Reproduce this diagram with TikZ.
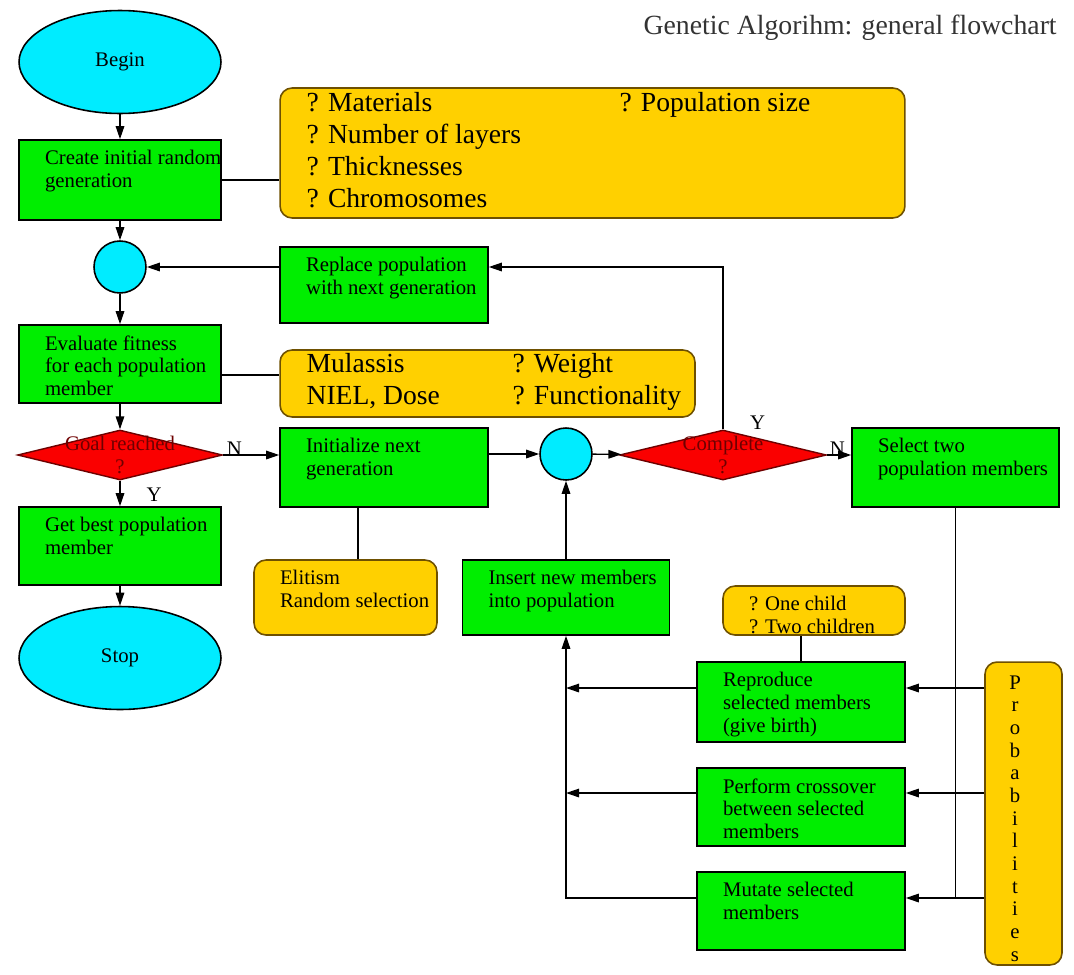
\documentclass[tikz,border=0pt]{standalone}
\usepackage{fontspec}
\setmainfont{Liberation Serif}
\usetikzlibrary{shapes.geometric,arrows.meta}
\definecolor{procgreen}{RGB}{0,238,0}
\definecolor{termcyan}{RGB}{0,236,255}
\definecolor{notegold}{RGB}{255,208,0}
\definecolor{noteedge}{RGB}{110,80,0}
\definecolor{testred}{RGB}{250,0,0}
\definecolor{testedge}{RGB}{110,0,0}

\begin{document}
\begin{tikzpicture}[x=0.02cm, y=-0.02cm,
    every node/.style={font=\fontsize{11.8}{12.9}\selectfont},
    term/.style={ellipse, draw, fill=termcyan, line width=0.9pt, minimum width=4.04cm, minimum height=2.06cm},
    joint/.style={circle, draw, fill=termcyan, line width=0.9pt, minimum size=1.04cm, inner sep=0pt},
    proc/.style={rectangle, draw, fill=procgreen, line width=0.9pt},
    note/.style={rectangle, rounded corners=0.24cm, draw=noteedge, fill=notegold, line width=0.9pt},
    test/.style={diamond, draw=testedge, fill=testred, line width=0.8pt, inner sep=0pt},
    ptext/.style={anchor=north west, align=left, inner sep=0pt, xshift=0.53cm, yshift=-0.22cm},
    btext/.style={anchor=north west, align=left, inner sep=0pt, xshift=0.54cm, yshift=-0.1cm, font=\fontsize{15.7}{18.1}\selectfont},
    ltext/.style={anchor=north, align=center, inner sep=0pt, xshift=-0.17cm, yshift=-0.28cm},
    dtext/.style={anchor=center, align=center, inner sep=0pt, text=testedge},
    yn/.style={inner sep=0pt},
    arr/.style={-{Triangle[length=0.26cm,width=0.17cm]}, line width=0.8pt},
    link/.style={line width=0.8pt}]
            \useasboundingbox (0,0) rectangle (1074,974);

            \node[anchor=base east, inner sep=0pt, font=\fontsize{15.8}{18}\selectfont, text=black!80] (title) at (1057,34) {Genetic Algorihm: general flowchart};

            \node[term] (begin) at (120,62) {Begin};
            \node[proc, minimum width=4.04cm, minimum height=1.6cm, label={[ptext]north west:Create initial random\\generation}] (create) at (120,180) {};
            \node[note, minimum width=12.5cm, minimum height=2.6cm,
                label={[btext]north west:{? Materials\\? Number of layers\\? Thicknesses\\? Chromosomes}},
                label={[btext, xshift=6.26cm]north west:{? Population size}}] (cparams) at (592.5,153) {};
            \node[joint] (circ1) at (120,267) {};
            \node[proc, minimum width=4.16cm, minimum height=1.52cm, label={[ptext]north west:Replace population\\with next generation}] (replace) at (384,285) {};
            \node[proc, minimum width=4.04cm, minimum height=1.56cm, label={[ptext]north west:Evaluate fitness\\for each population\\member}] (evaluate) at (120,364) {};
            \node[note, minimum width=8.3cm, minimum height=1.34cm,
                label={[btext, yshift=0.02cm]north west:{Mulassis\\NIEL, Dose}},
                label={[btext, yshift=0.02cm, xshift=4.12cm]north west:{? Weight\\? Functionality}}] (eparams) at (487.5,383.5) {};
            \node[test, minimum width=4.1cm, minimum height=1.0cm, label={[dtext]center:Goal reached\\?}] (goal) at (120,455) {};
            \node[proc, minimum width=4.04cm, minimum height=1.56cm, label={[ptext]north west:Get best population\\member}] (getbest) at (120,546) {};
            \node[term] (stop) at (120,658) {Stop};

            \node[proc, minimum width=4.16cm, minimum height=1.58cm, label={[ptext]north west:Initialize next\\generation}] (init) at (384,467.5) {};
            \node[note, minimum width=3.66cm, minimum height=1.5cm, label={[ptext]north west:Elitism\\Random selection}] (elitism) at (345.5,597.5) {};
            \node[joint] (circ2) at (566,454) {};
            \node[test, minimum width=4.14cm, minimum height=1.0cm, label={[dtext]center:Complete\\?}] (complete) at (723,455) {};
            \node[proc, minimum width=4.14cm, minimum height=1.58cm, label={[ptext]north west:Select two\\population members}] (select) at (955.5,467.5) {};
            \node[proc, minimum width=4.14cm, minimum height=1.5cm, label={[ptext]north west:Insert new members\\into population}] (insert) at (566,597.5) {};
            \node[note, minimum width=3.64cm, minimum height=0.98cm, label={[ptext]north west:? One child\\? Two children}] (children) at (814,610.5) {};
            \node[proc, minimum width=4.16cm, minimum height=1.6cm, label={[ptext]north west:Reproduce\\selected members\\(give birth)}] (reproduce) at (801,702) {};
            \node[proc, minimum width=4.16cm, minimum height=1.56cm, label={[ptext]north west:Perform crossover\\between selected\\members}] (crossover) at (801,807) {};
            \node[proc, minimum width=4.16cm, minimum height=1.56cm, label={[ptext]north west:Mutate selected\\members}] (mutate) at (801,911) {};
            \node[note, minimum width=1.54cm, minimum height=6.06cm, label={[ltext]north:P\\r\\o\\b\\a\\b\\i\\l\\i\\t\\i\\e\\s}] (probs) at (1023.5,813.5) {};

            \draw[arr] (begin) -- (create);
            \draw[arr] (create) -- (circ1);
            \draw[arr] (circ1) -- (evaluate);
            \draw[arr] (evaluate) -- (goal);
            \draw[arr] (goal) -- node[yn, pos=1, anchor=base west, xshift=0.52cm, yshift=0.1cm] (ygoal) {Y} (getbest);
            \draw[arr] (getbest) -- (stop);
            \draw[link] (create) -- (create -| cparams.west);
            \draw[link] (evaluate.east) ++(0,11) coordinate (evalout) -- (evalout -| eparams.west);
            \draw[arr] (circ1 -| replace.west) -- (circ1);
            \draw[arr] (complete) |- node[yn, pos=0, anchor=base west, xshift=0.53cm] (ycomp) {Y} (circ1 -| replace.east);
            \draw[arr] (goal) -- node[yn, pos=0, anchor=base west, xshift=0.06cm] (ngoal) {N} (goal -| init.west);
            \draw[link] ([xshift=-0.52cm]init.south) -- ([xshift=-0.52cm]init.south |- elitism.north);
            \draw[arr] (circ2 -| init.east) -- (circ2);
            \draw[arr] (circ2) -- (complete);
            \draw[arr] (complete) -- node[yn, pos=0, anchor=base west, xshift=0.04cm] (ncomp) {N} (complete -| select.west);
            \draw[arr] (insert) -- (circ2);
            \draw[link] (reproduce.north) -- (reproduce.north |- children.south);

            \coordinate (repin) at ([yshift=0.28cm]reproduce.east);
            \coordinate (crossin) at ([yshift=0.28cm]crossover.east);
            \coordinate (mutin) at ([yshift=0.26cm]mutate.east);
            \draw[link] (select) -- (select |- mutin);
            \draw[arr] (probs.west |- repin) -- (repin);
            \draw[arr] (probs.west |- crossin) -- (crossin);
            \draw[arr] (probs.west |- mutin) -- (mutin);
            \draw[arr] ([yshift=0.28cm]reproduce.west) -- ([yshift=0.28cm]reproduce.west -| insert.south);
            \draw[arr] ([yshift=0.28cm]crossover.west) -- ([yshift=0.28cm]crossover.west -| insert.south);
            \draw[arr] ([yshift=0.26cm]mutate.west) -| (insert.south);
        \end{tikzpicture}
\end{document}
